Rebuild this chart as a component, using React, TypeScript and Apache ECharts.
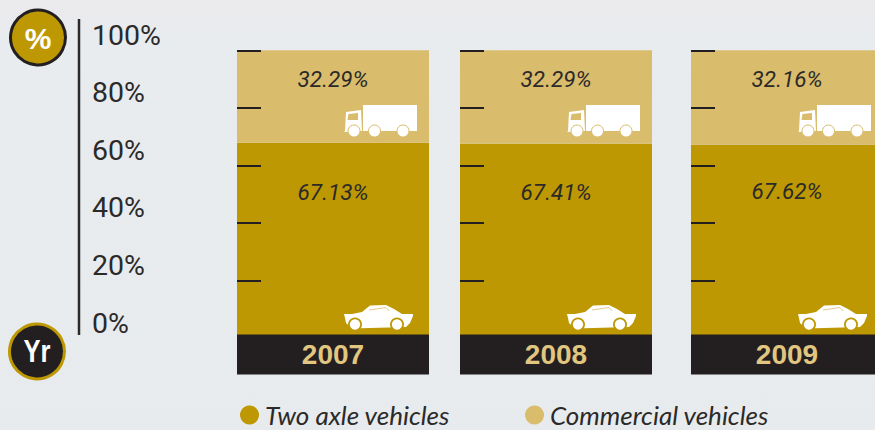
import React, { useEffect, useRef } from "react";
import * as echarts from "echarts";

const years = ["2007", "2008", "2009"];
const twoAxleDrawn = [67.85, 67.5, 67.15];
const commercialDrawn = [32.15, 32.5, 32.85];
const twoAxleLabels = ["67.13%", "67.41%", "67.62%"];
const commercialLabels = ["32.29%", "32.29%", "32.16%"];
const barLefts = [237, 460, 691];
const twoAxleLabelGaps = [38, 37, 35];
const axisTicks = [0, 20, 40, 60, 80, 100];

const GOLD = "#bd9803";
const TAN = "#d9bc6c";
const DARK = "#231f20";
const SANS = "'Liberation Sans', sans-serif";
const ROBOTO = "Roboto, 'Liberation Sans', sans-serif";
const Z = 20;

const car = (left: number) => ({
  type: "group",
  x: left + 107,
  y: 305,
  silent: true,
  children: [
    {
      type: "polygon",
      z: Z,
      shape: {
        points: [
          [0, 9], [8, 9], [18, 7], [26, 0.5], [42, 0], [50, 4], [58, 9], [69, 9], [69, 11],
          [66, 18], [62, 22], [8, 23.5], [2, 18], [1, 13],
        ],
      },
      style: { fill: "#fff" },
    },
    { type: "polyline", z: Z + 1, shape: { points: [[25, 5], [42, 2.5], [45, 6]] }, style: { stroke: TAN, lineWidth: 0.8, fill: "none" } },
    { type: "circle", z: Z + 1, shape: { cx: 11, cy: 19.5, r: 7 }, style: { fill: GOLD } },
    { type: "circle", z: Z + 1, shape: { cx: 53, cy: 19.5, r: 7 }, style: { fill: GOLD } },
    { type: "circle", z: Z + 2, shape: { cx: 11, cy: 19.5, r: 5.2 }, style: { fill: "#fff" } },
    { type: "circle", z: Z + 2, shape: { cx: 53, cy: 19.5, r: 5.2 }, style: { fill: "#fff" } },
  ],
});

const truck = (left: number) => ({
  type: "group",
  x: left + 107,
  y: 105,
  silent: true,
  children: [
    { type: "rect", z: Z, shape: { x: 19, y: 0, width: 54, height: 26 }, style: { fill: "#fff" } },
    { type: "polygon", z: Z, shape: { points: [[2, 7], [17, 5], [18, 26], [0, 27], [1, 26]] }, style: { fill: "#fff" } },
    { type: "polygon", z: Z + 1, shape: { points: [[4.5, 9], [14, 8], [14, 15], [3.5, 15]] }, style: { fill: TAN } },
    { type: "circle", z: Z + 2, shape: { cx: 10, cy: 26, r: 6 }, style: { fill: "#fff", stroke: TAN, lineWidth: 1 } },
    { type: "circle", z: Z + 2, shape: { cx: 30.5, cy: 26, r: 6 }, style: { fill: "#fff", stroke: TAN, lineWidth: 1 } },
    { type: "circle", z: Z + 2, shape: { cx: 59, cy: 26, r: 6 }, style: { fill: "#fff", stroke: TAN, lineWidth: 1 } },
  ],
});

export default function App() {
  const ref = useRef<HTMLDivElement>(null);
  useEffect(() => {
    const chart = echarts.init(ref.current!, null, { renderer: "svg" });
    const grids: any[] = barLefts.map((left) => ({ left, top: 50.25, width: 192, height: 287.5, outerBoundsMode: "none" }));
    grids.push({ left: 79, top: 35, width: 10, height: 288, outerBoundsMode: "none" });

    const xAxis: any[] = years.map((y, i) => ({
      type: "category",
      gridIndex: i,
      data: [y],
      z: 5,
      axisLine: { show: false },
      axisTick: { show: false },
      axisLabel: {
        interval: 0,
        margin: -3.25,
        color: "#e1c680",
        fontFamily: SANS,
        fontWeight: "bold",
        fontSize: 28,
        width: 192,
        height: 40,
        lineHeight: 40,
        align: "center",
        backgroundColor: DARK,
      },
    }));
    xAxis.push({ type: "value", gridIndex: 3, show: false, min: 0, max: 1 });

    const yAxis: any[] = years.map((_, i) => ({
      type: "value",
      gridIndex: i,
      min: 0,
      max: 100,
      interval: 20,
      z: 4,
      axisLine: { show: false },
      axisTick: { show: true, inside: true, length: 24, lineStyle: { color: DARK, width: 2 } },
      axisLabel: { show: false },
      splitLine: { show: false },
    }));
    yAxis.push({
      type: "value",
      gridIndex: 3,
      min: axisTicks[0],
      max: axisTicks[axisTicks.length - 1],
      interval: 20,
      axisLine: { show: false },
      axisTick: { show: false },
      splitLine: { show: false },
      axisLabel: {
        inside: true,
        margin: 13,
        color: "#2b2a29",
        fontFamily: ROBOTO,
        fontWeight: 400,
        fontSize: 28.5,
        formatter: "{value}%",
      },
    });

    const series: any[] = [];
    years.forEach((_, i) => {
      series.push({
        name: "Two axle vehicles",
        type: "bar",
        stack: "s" + i,
        xAxisIndex: i,
        yAxisIndex: i,
        barWidth: "100%",
        data: [twoAxleDrawn[i]],
        itemStyle: { color: GOLD },
        label: {
          show: true,
          position: "insideTop",
          distance: twoAxleLabelGaps[i],
          formatter: () => twoAxleLabels[i],
          color: "#2b2a29",
          fontFamily: ROBOTO,
          fontStyle: "italic",
          fontWeight: 400,
          fontSize: 22.5,
        },
      });
      series.push({
        name: "Commercial vehicles",
        type: "bar",
        stack: "s" + i,
        xAxisIndex: i,
        yAxisIndex: i,
        barWidth: "100%",
        data: [commercialDrawn[i]],
        itemStyle: { color: TAN },
        label: {
          show: true,
          position: "insideTop",
          distance: 17,
          formatter: () => commercialLabels[i],
          color: "#2b2a29",
          fontFamily: ROBOTO,
          fontStyle: "italic",
          fontWeight: 400,
          fontSize: 22.5,
        },
      });
    });

    chart.setOption({
      animation: false,
      backgroundColor: "transparent",
      grid: grids,
      xAxis,
      yAxis,
      series,
      legend: {
        left: 240,
        top: 399,
        padding: 0,
        icon: "circle",
        itemWidth: 19,
        itemHeight: 19,
        itemGap: 75,
        data: ["Two axle vehicles", "Commercial vehicles"],
        textStyle: {
          color: "#2b2a29",
          fontFamily: "Lato, 'Open Sans', sans-serif",
          fontStyle: "italic",
          fontSize: 26,
          lineHeight: 20,
          padding: [0, 0, 12, 1],
        },
      },
      graphic: [
        { type: "line", z: Z, shape: { x1: 79, y1: 19, x2: 79, y2: 335 }, style: { stroke: "#2b2a29", lineWidth: 2.5 } },
        { type: "circle", z: Z, shape: { cx: 38, cy: 37.5, r: 27.5 }, style: { fill: GOLD, stroke: DARK, lineWidth: 3 } },
        {
          type: "text",
          z: Z + 1,
          x: 38,
          y: 38,
          style: { text: "%", fill: "#fff", font: `bold 30px ${SANS}`, align: "center", verticalAlign: "middle" },
        },
        { type: "circle", z: Z, shape: { cx: 37, cy: 351.5, r: 27.5 }, style: { fill: DARK, stroke: GOLD, lineWidth: 3 } },
        {
          type: "text",
          z: Z + 1,
          x: 37,
          y: 351,
          scaleX: 0.8,
          style: { text: "Yr", fill: "#fff", font: `bold 32px ${SANS}`, align: "center", verticalAlign: "middle" },
        },
        ...barLefts.map(truck),
        ...barLefts.map(car),
      ],
    });
    return () => chart.dispose();
  }, []);
  return (
    <div
      style={{
        position: "fixed",
        left: 0,
        top: 0,
        width: 875,
        height: 430,
        overflow: "hidden",
        background: "linear-gradient(180deg,#ebe9ec 0px,#e8ecef 40px,#e8ebee 100%)",
      }}
    >
      <div ref={ref} style={{ width: 875, height: 430 }} />
    </div>
  );
}
